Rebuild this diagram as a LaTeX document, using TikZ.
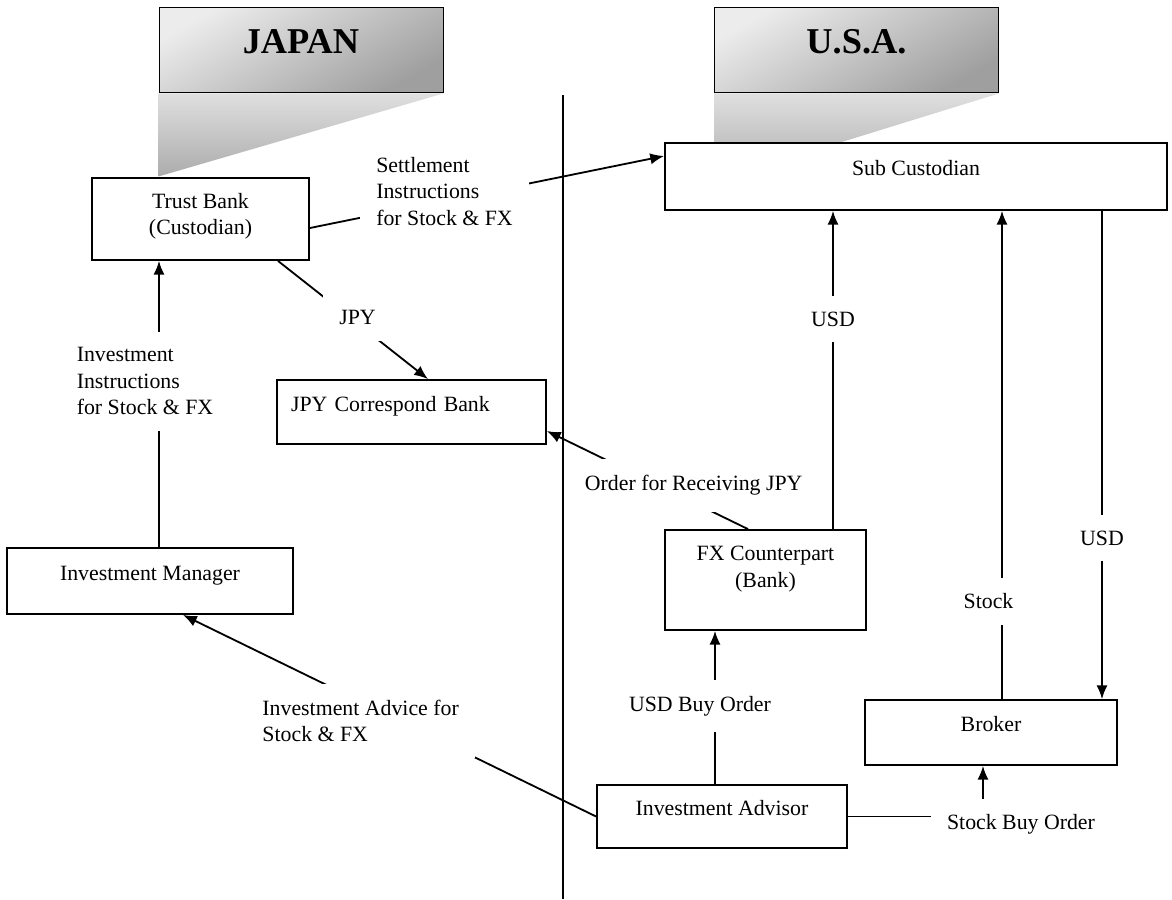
\documentclass[tikz,border=0pt]{standalone}
\usepackage{fontspec}
\setmainfont{Liberation Serif}
\usetikzlibrary{arrows.meta,calc,positioning}
\tikzset{
	block/.style = {draw, fill=white, rectangle, align=center, text height=8.4pt, text depth=9.5pt},
	lbl/.style = {fill=white, inner sep=8.8pt, align=left},
	hdr/.style = {draw, line width=0.5pt, top color=gray!15, bottom color=gray!75, shading angle=30,
		minimum width=156.2pt, minimum height=46.75pt, text depth=9.35pt,
		font=\fontsize{20}{24}\selectfont\bfseries},
	dropshade/.style = {top color=gray!25, bottom color=gray!65}
}

\begin{document}
\begin{tikzpicture}[x=0.55pt, y=-0.55pt, line width=1pt, >={Latex[length=7.6pt,width=6.2pt]},
	font=\fontsize{12}{14.5}\selectfont]
	\useasboundingbox (0,0) rectangle (1172,899);

	% country headers
	\node[hdr] (japan) at (301,49.5) {JAPAN};
	\node[hdr] (usa) at (856.5,49.5) {U.S.A.};
	\shade[dropshade] ($(japan.south west)+(0,1)$) -- ($(japan.south east)+(0,1)$) -- ($(japan.south west)+(0,84)$) -- cycle;
	\shade[dropshade] ($(usa.south west)+(0,1)$) -- ($(usa.south east)+(0,1)$) -- ($(usa.south west)+(0,89)$) -- cycle;

	% japan side
	\node[block, minimum width=119.35pt, minimum height=45.1pt, text height={}, text depth=5.8pt] (trust) at (200.5,219) {Trust Bank\\(Custodian)};
	\node[block, minimum width=147.95pt, minimum height=35.2pt, text width=132.5pt, align=left] (corr) at (411.5,412) {JPY Correspond Bank};
	\node[block, minimum width=157.3pt, minimum height=36.3pt] (im) at (150,581) {Investment Manager};

	% u.s.a. side
	\node[block, minimum width=276.1pt, minimum height=36.85pt] (sub) at (916,176.5) {Sub Custodian};
	\node[block, minimum width=110.55pt, minimum height=55pt, text height={}, text depth=14.6pt] (fx) at (765.5,580) {FX Counterpart\\(Bank)};
	\node[block, minimum width=138.6pt, minimum height=35.75pt] (broker) at (991,732.5) {Broker};
	\node[block, minimum width=137.5pt, minimum height=34.65pt] (adv) at (722,816.5) {Investment Advisor};

	\draw [->] ($(trust.east)+(0,9)$) -- node[lbl, pos=.38, yshift=5.2pt] {Settlement\\Instructions\\for Stock \& FX} ($(sub.west)+(0,-20.5)$);
	\draw [->] ($(trust.south)+(77.5,0)$) -- node[lbl, pos=.53, yshift=3.3pt] {JPY} ($(corr.north)+(16.5,0)$);
	\draw [->] ($(im.north)+(9,0)$) -- node[lbl, pos=.58, xshift=-7.7pt] {Investment\\Instructions\\for Stock \& FX} ($(trust.south)+(-41.5,0)$);
	\draw [->] ($(fx.north)+(-17.5,0)$) -- node[lbl, pos=.27, yshift=9.4pt] {Order for Receiving JPY} ($(corr.east)+(0,19)$);
	\draw [->] ($(fx.north)+(67.5,0)$) -- node[lbl, pos=.66] {USD} ($(sub.south)+(-83,0)$);
	\draw [->] ($(sub.south)+(186,0)$) -- node[lbl, pos=.67] {USD} ($(broker.north)+(111,0)$);
	\draw [->] ($(broker.north)+(11,0)$) -- node[lbl, pos=.2, xshift=-7.4pt] {Stock} ($(sub.south)+(86,0)$);
	\draw [->] ($(adv.north)+(-7,0)$) -- node[lbl, pos=.51, xshift=-8.25pt] {USD Buy Order} ($(fx.south)+(-50.5,0)$);
	\draw [->] (adv.east) -| node[lbl, pos=.5, xshift=20.9pt, yshift=-4.4pt] {Stock Buy Order} ($(broker.south)+(-8,0)$);
	\draw [->] (adv.west) -- node[lbl, pos=.57, yshift=-10.8pt] {Investment Advice for\\Stock \& FX} ($(im.south)+(33,0)$);

	% border between the two countries
	\draw (563,95) -- (563,899);
\end{tikzpicture}
\end{document}
